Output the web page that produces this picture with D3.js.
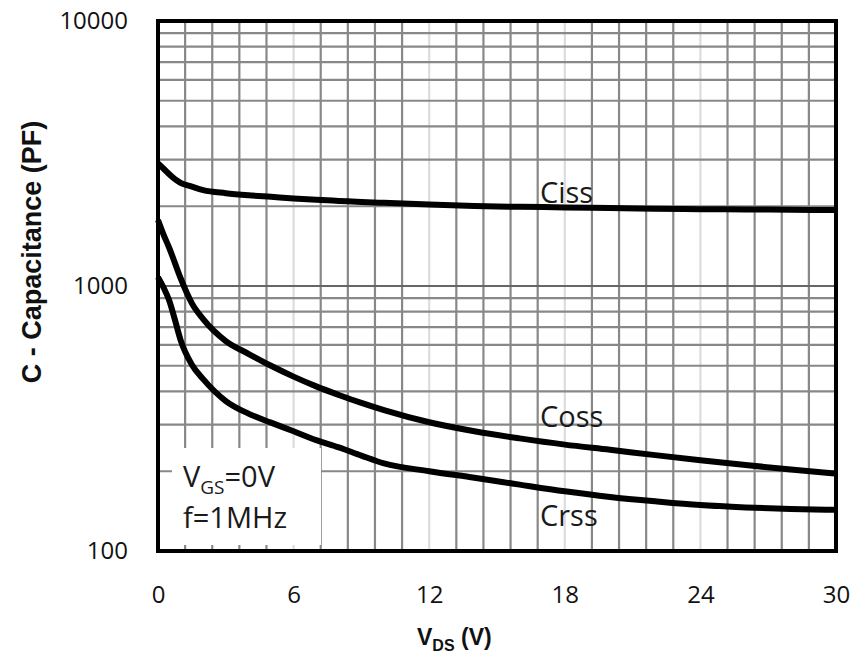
<!DOCTYPE html>
<html>
<head>
<meta charset="utf-8">
<script src="https://cdn.jsdelivr.net/npm/d3@7"></script>
<style>
  body { margin: 0; background: #fff; }
  svg { display: block; }
</style>
</head>
<body>
<svg width="865" height="660"></svg>
<script>
// V_DS sample points (V)
const vds  = [0, 0.25, 0.5, 0.75, 1, 1.5, 2, 3, 4, 5, 6, 7, 8, 9, 10, 12, 14, 16, 18, 20, 22, 24, 26, 28, 30];
// capacitances (pF)
const ciss = [2900, 2770, 2640, 2530, 2450, 2370, 2300, 2240, 2200, 2170, 2140, 2115, 2095, 2075, 2060, 2030, 2005, 1990, 1980, 1968, 1958, 1950, 1945, 1940, 1935];
const coss = [1775, 1560, 1390, 1220, 1070, 860, 750, 620, 555, 500, 455, 418, 388, 362, 340, 306, 283, 266, 252, 241, 230, 220, 211, 203, 196];
const crss = [1080, 985, 880, 745, 625, 505, 445, 368, 330, 305, 283, 262, 246, 229, 214, 200, 189, 178, 168, 160, 154, 149, 146, 144, 143];

const xTicks = [0, 6, 12, 18, 24, 30];
const yTicks = [100, 1000, 10000];
const seriesNames = ['Ciss', 'Coss', 'Crss'];

const svg = d3.select('svg');

const margin = { top: 21, right: 29, bottom: 109, left: 158 };
const width = 865, height = 660;
const innerWidth = width - margin.left - margin.right;
const innerHeight = height - margin.top - margin.bottom;

const xScale = d3.scaleLinear().domain([0, 30]).range([0, innerWidth]);
const yScale = d3.scaleLog().domain([100, 10000]).range([innerHeight, 0]);

const g = svg.append('g')
  .attr('transform', `translate(${margin.left},${margin.top})`);

// grid - vertical every 1.2 V
const vLines = d3.range(1, 25).map(i => i * 1.2);
g.selectAll('.vgrid').data(vLines)
  .enter().append('line')
  .attr('x1', d => xScale(d)).attr('x2', d => xScale(d))
  .attr('y1', 0).attr('y2', innerHeight)
  .attr('stroke', (d, i) => (i + 1) % 5 === 0 ? '#dcdcdc' : '#888')
  .attr('stroke-width', 2.2);

// grid - horizontal log lines
const hLines = yScale.ticks().filter(d => d > 100 && d < 10000);
g.selectAll('.hgrid').data(hLines)
  .enter().append('line')
  .attr('x1', 0).attr('x2', innerWidth)
  .attr('y1', d => yScale(d)).attr('y2', d => yScale(d))
  .attr('stroke', d => d === 1000 ? '#666' : '#888')
  .attr('stroke-width', 2.2);

// box behind the test conditions
g.append('rect')
  .attr('x', 14).attr('y', 427)
  .attr('width', 149).attr('height', 97)
  .attr('fill', '#fff');

// curves
const line = d3.line()
  .x((d, i) => xScale(vds[i]))
  .y(d => yScale(d))
  .curve(d3.curveMonotoneX);

[ciss, coss, crss].forEach((s, i) => {
  g.append('path')
    .datum(s)
    .attr('class', 'curve ' + seriesNames[i])
    .attr('fill', 'none')
    .attr('stroke', '#000')
    .attr('stroke-width', 6)
    .attr('stroke-linejoin', 'round')
    .attr('d', line);
});

// frame
g.append('rect')
  .attr('width', innerWidth).attr('height', innerHeight)
  .attr('fill', 'none')
  .attr('stroke', '#000')
  .attr('stroke-width', 4);

// x axis
const xAxisG = g.append('g')
  .attr('transform', `translate(0,${innerHeight})`)
  .call(d3.axisBottom(xScale).tickValues(xTicks).tickSize(0).tickPadding(35));
xAxisG.select('.domain').remove();
xAxisG.selectAll('text')
  .attr('font-family', '"Open Sans", sans-serif')
  .attr('font-size', 24)
  .attr('fill', '#111');

// y axis
const yAxisG = g.append('g')
  .call(d3.axisLeft(yScale).tickValues(yTicks).tickFormat(d3.format('d')).tickSize(0).tickPadding(30));
yAxisG.select('.domain').remove();
yAxisG.selectAll('text')
  .attr('font-family', '"Open Sans", sans-serif')
  .attr('font-size', 24)
  .attr('fill', '#111');

// curve labels
const labelFont = '"Open Sans", sans-serif';
const labels = [
  { name: 'Ciss', v: 16.9, c: 2055 },
  { name: 'Coss', v: 16.9, c: 294 },
  { name: 'Crss', v: 16.9, c: 124 }
];
g.selectAll('.lbl').data(labels)
  .enter().append('text')
  .attr('x', d => xScale(d.v))
  .attr('y', d => yScale(d.c))
  .attr('font-family', labelFont)
  .attr('font-size', 29)
  .attr('fill', '#1a1a1a')
  .text(d => d.name);

// test conditions
const cond = g.append('text')
  .attr('x', 25).attr('y', 466)
  .attr('font-family', labelFont)
  .attr('font-size', 29)
  .attr('fill', '#1a1a1a');
cond.append('tspan').text('V');
cond.append('tspan').attr('font-size', 19).attr('dy', 7).text('GS');
cond.append('tspan').attr('dy', -7).text('=0V');
g.append('text')
  .attr('x', 25).attr('y', 507)
  .attr('font-family', labelFont)
  .attr('font-size', 29)
  .attr('fill', '#1a1a1a')
  .text('f=1MHz');

// axis titles
const xTitle = svg.append('text')
  .attr('x', 417).attr('y', 645)
  .attr('font-family', '"Liberation Sans", Arial, sans-serif')
  .attr('font-weight', 'bold')
  .attr('font-size', 23)
  .attr('fill', '#111');
xTitle.append('tspan').text('V');
xTitle.append('tspan').attr('font-size', 16).attr('dy', 6).text('DS');
xTitle.append('tspan').attr('dy', -6).text(' (V)');

svg.append('text')
  .attr('transform', `translate(41,${252}) rotate(-90)`)
  .attr('text-anchor', 'middle')
  .attr('font-family', '"Liberation Sans", Arial, sans-serif')
  .attr('font-weight', 'bold')
  .attr('font-size', 27)
  .attr('fill', '#111')
  .text('C - Capacitance (PF)');
</script>
</body>
</html>
